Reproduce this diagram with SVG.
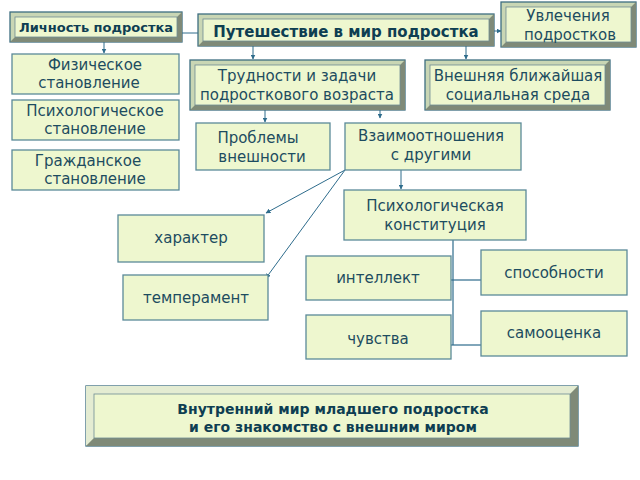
<svg xmlns="http://www.w3.org/2000/svg" width="640" height="480" viewBox="0 0 640 480">
<defs>
<style>
.b{fill:#eef7cf;stroke:#5b8a99;stroke-width:1.3}
.o{fill:#c9d6b4;stroke:#3e6e80;stroke-width:1.3}
.d{fill:#7f8a78}
.l{fill:#e4ecd2}
.i{fill:#eef7cf;stroke:#6e8c94;stroke-width:0.8}
text{font-family:"DejaVu Sans","Noto Sans",sans-serif;fill:#1d4c60;font-size:15px;text-anchor:middle}
.t{font-weight:bold;font-size:14px;fill:#0e3e52}
.c{stroke:#2e6c8c;stroke-width:1;fill:none}
.k{stroke:#2e6c8c;stroke-width:1.2;fill:none}
</style>
<marker id="a" viewBox="0 0 10 10" refX="9" refY="5" markerWidth="5" markerHeight="5" orient="auto"><path d="M0,0L10,5L0,10z" fill="#2e6c8c"/></marker>
</defs>
<rect width="640" height="480" fill="#fff"/>
<g id="connectors">
<line class="c" x1="182" y1="33" x2="198" y2="33"/>
<line class="c" x1="494" y1="31" x2="501" y2="31" marker-end="url(#a)"/>
<line class="c" x1="104" y1="42" x2="104" y2="53" marker-end="url(#a)"/>
<line class="c" x1="253" y1="46" x2="253" y2="59" marker-end="url(#a)"/>
<line class="c" x1="466" y1="46" x2="466" y2="59" marker-end="url(#a)"/>
<line class="c" x1="265" y1="110" x2="265" y2="122" marker-end="url(#a)"/>
<line class="c" x1="380" y1="110" x2="380" y2="118" marker-end="url(#a)"/>
<line class="c" x1="345" y1="170" x2="266" y2="213" marker-end="url(#a)"/>
<line class="c" x1="345" y1="170" x2="266" y2="278" marker-end="url(#a)"/>
<line class="c" x1="401" y1="170" x2="401" y2="189" marker-end="url(#a)"/>
<line class="k" x1="453" y1="240" x2="453" y2="345"/>
<line class="k" x1="451" y1="280" x2="481" y2="280"/>
<line class="k" x1="451" y1="345" x2="481" y2="345"/>
</g>
<g id="n1"><rect class="o" x="10" y="12" width="172" height="30"/><polygon class="d" points="182,12 182,42 10,42 15,37 177,37 177,17"/><rect class="i" x="15" y="17" width="162" height="20"/><text class="t" x="96" y="32" style="font-size:13px">Личность подростка</text></g>
<g id="n2"><rect class="o" x="198" y="14" width="296" height="32"/><polygon class="d" points="494,14 494,46 198,46 203,41 489,41 489,19"/><rect class="i" x="203" y="19" width="286" height="22"/><text class="t" x="346" y="37" style="font-size:15px">Путешествие в мир подростка</text></g>
<g id="n3"><rect class="o" x="501" y="2" width="135" height="45"/><polygon class="d" points="636,2 636,47 501,47 506,42 631,42 631,7"/><rect class="i" x="506" y="7" width="125" height="35"/><text x="568" y="21">Увлечения</text><text x="570" y="40">подростков</text></g>
<g id="n4"><rect class="o" x="190" y="60" width="215" height="50"/><polygon class="d" points="405,60 405,110 190,110 195,105 400,105 400,65"/><rect class="i" x="195" y="65" width="205" height="40"/><text x="297" y="81">Трудности и задачи</text><text x="297" y="100">подросткового возраста</text></g>
<g id="n5"><rect class="o" x="425" y="60" width="185" height="50"/><polygon class="d" points="610,60 610,110 425,110 430,105 605,105 605,65"/><rect class="i" x="430" y="65" width="175" height="40"/><text x="518" y="81">Внешняя ближайшая</text><text x="518" y="100">социальная среда</text></g>
<g id="n6"><rect class="b" x="12" y="54" width="167" height="40"/><text x="95" y="70">Физическое</text><text x="89" y="88">становление</text></g>
<g id="n7"><rect class="b" x="12" y="100" width="167" height="40"/><text x="95" y="116">Психологическое</text><text x="95" y="134">становление</text></g>
<g id="n8"><rect class="b" x="12" y="150" width="167" height="40"/><text x="88" y="166">Гражданское</text><text x="95" y="184">становление</text></g>
<g id="n9"><rect class="b" x="196" y="123" width="134" height="47"/><text x="258" y="143">Проблемы</text><text x="262" y="162">внешности</text></g>
<g id="n10"><rect class="b" x="345" y="123" width="176" height="47"/><text x="431" y="141">Взаимоотношения</text><text x="431" y="160">с другими</text></g>
<g id="n11"><rect class="b" x="344" y="190" width="182" height="50"/><text x="435" y="211">Психологическая</text><text x="435" y="230">конституция</text></g>
<g id="n12"><rect class="b" x="118" y="215" width="146" height="47"/><text x="191" y="243">характер</text></g>
<g id="n13"><rect class="b" x="123" y="275" width="145" height="45"/><text x="196" y="303">темперамент</text></g>
<g id="n14"><rect class="b" x="306" y="256" width="145" height="44"/><text x="378" y="283">интеллект</text></g>
<g id="n15"><rect class="b" x="481" y="250" width="146" height="45"/><text x="554" y="278">способности</text></g>
<g id="n16"><rect class="b" x="306" y="315" width="145" height="44"/><text x="378" y="344">чувства</text></g>
<g id="n17"><rect class="b" x="481" y="311" width="146" height="45"/><text x="554" y="338">самооценка</text></g>
<g id="n18"><rect class="o" x="86" y="386" width="492" height="60"/><polygon class="l" points="86,386 578,386 570,394 94,394 94,438 86,446"/><polygon class="d" points="578,386 578,446 86,446 94,438 570,438 570,394"/><rect class="i" x="94" y="394" width="476" height="44"/><text class="t" x="333" y="414">Внутренний мир младшего подростка</text><text class="t" x="333" y="432">и его знакомство с внешним миром</text></g>
</svg>
